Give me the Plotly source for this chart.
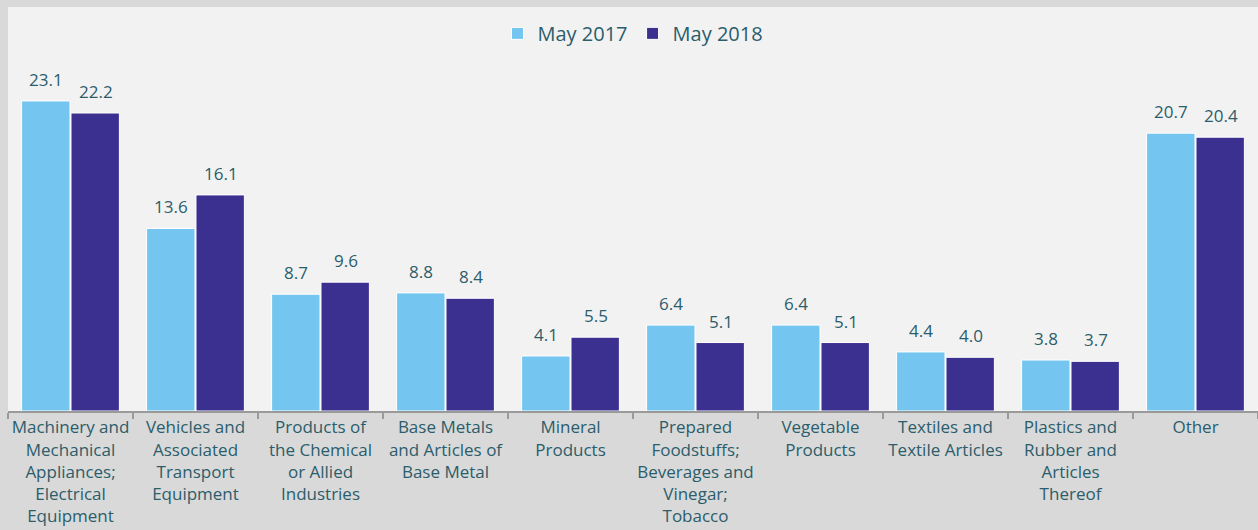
import plotly.graph_objects as go

_PAPER = "#d9d9d9"
_PLOT = "#f2f2f2"
_TEXT = "#2b5d6b"
_LIGHT = "#74c6f0"
_DARK = "#3b2f90"
_FONT = "Open Sans, Roboto, sans-serif"

categories = [
    "Machinery and<br>Mechanical<br>Appliances;<br>Electrical<br>Equipment",
    "Vehicles and<br>Associated<br>Transport<br>Equipment",
    "Products of<br>the Chemical<br>or Allied<br>Industries",
    "Base Metals<br>and Articles of<br>Base Metal",
    "Mineral<br>Products",
    "Prepared<br>Foodstuffs;<br>Beverages and<br>Vinegar;<br>Tobacco",
    "Vegetable<br>Products",
    "Textiles and<br>Textile Articles",
    "Plastics and<br>Rubber and<br>Articles<br>Thereof",
    "Other",
]
may_2017 = [23.1, 13.6, 8.7, 8.8, 4.1, 6.4, 6.4, 4.4, 3.8, 20.7]
may_2018 = [22.2, 16.1, 9.6, 8.4, 5.5, 5.1, 5.1, 4.0, 3.7, 20.4]

fig = go.Figure()
fig.add_trace(go.Bar(
    x=categories, y=may_2017, name="May 2017",
    marker=dict(color=_LIGHT, line=dict(color="white", width=1)),
))
fig.add_trace(go.Bar(
    x=categories, y=may_2018, name="May 2018",
    marker=dict(color=_DARK, line=dict(color="white", width=1)),
))

# value labels above each bar
for series, shift in ((may_2017, -25), (may_2018, 25)):
    for cat, v in zip(categories, series):
        fig.add_annotation(
            x=cat, y=v, text=f"{v:.1f}", showarrow=False,
            xshift=shift, yshift=8, yanchor="bottom",
            font=dict(size=17, color=_TEXT, family=_FONT),
        )

fig.update_layout(
    width=1258, height=530,
    paper_bgcolor=_PAPER, plot_bgcolor=_PLOT,
    font=dict(family=_FONT, size=17, color=_TEXT),
    margin=dict(l=8, r=0, t=7, b=119, autoexpand=False),
    barmode="group", bargap=0.21, bargroupgap=0.02,
    showlegend=True,
    legend=dict(
        orientation="h", x=0.5, xanchor="center", y=0.983, yanchor="top",
        bgcolor="rgba(0,0,0,0)", font=dict(size=20, color=_TEXT),
    ),
)
fig.update_xaxes(
    showline=True, linecolor="#9a9a9a", linewidth=2,
    ticks="outside", tickson="boundaries", ticklen=6, tickcolor="#9a9a9a",
    tickwidth=2, tickangle=0, tickfont=dict(size=17, color=_TEXT),
    showgrid=False, automargin=False,
)
fig.update_yaxes(range=[0, 30.1], visible=False, showgrid=False,
                 automargin=False)

fig.write_html(
    "out.html",
    config={"displayModeBar": False},
    post_script="document.body.style.margin='0';"
                "document.body.style.background='#d9d9d9';",
)
